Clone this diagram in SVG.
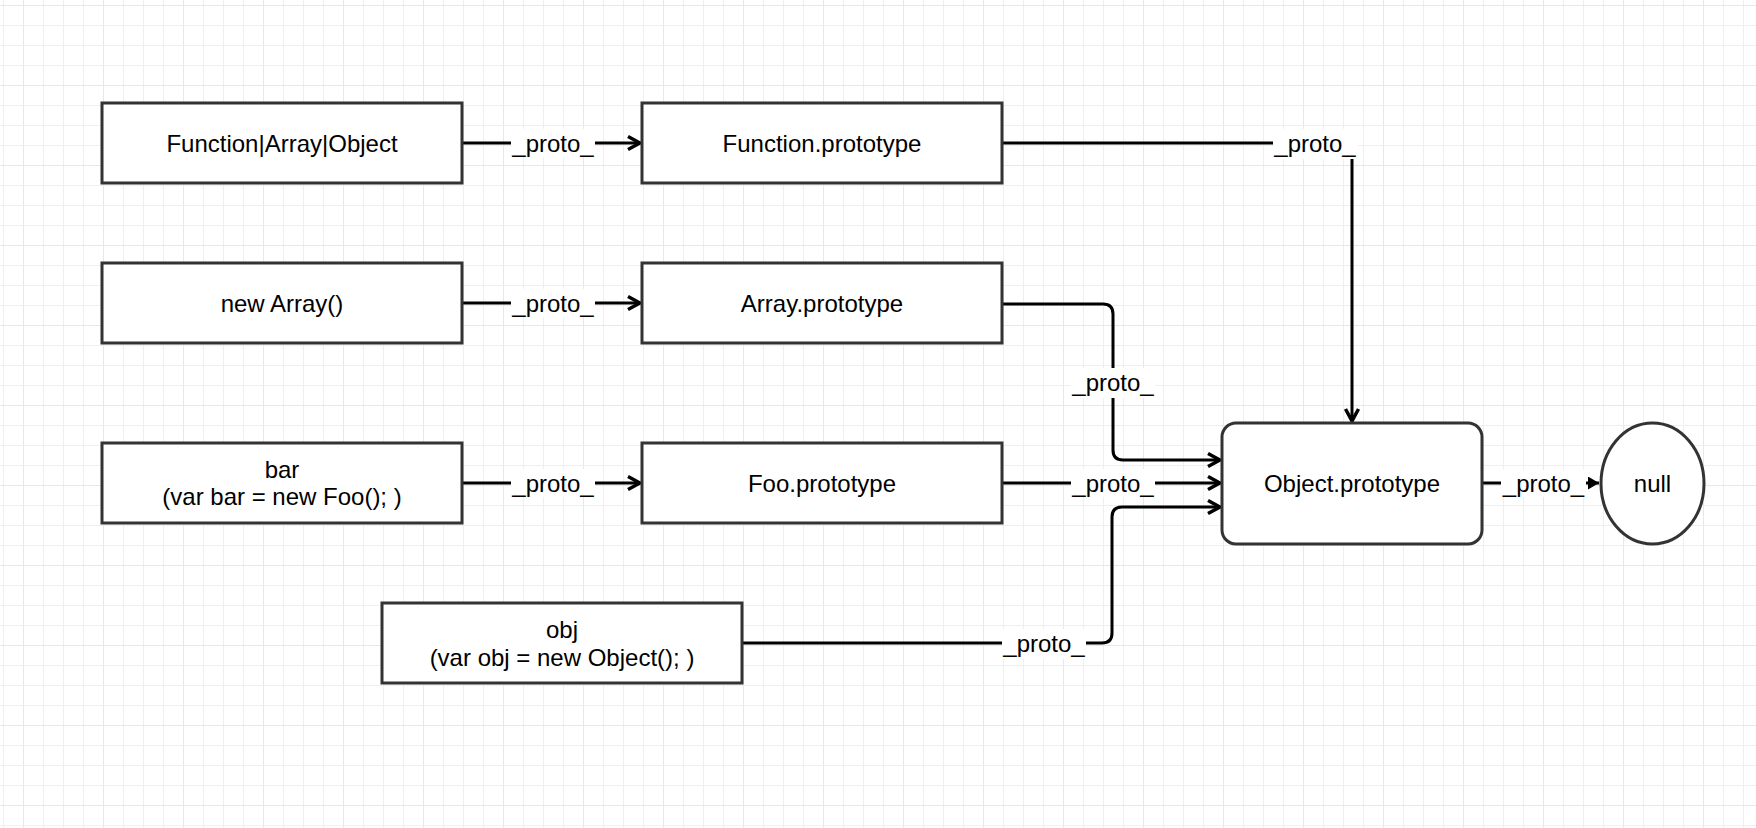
<svg xmlns="http://www.w3.org/2000/svg" width="1756" height="828" viewBox="0 0 1756 828">
  <style>
    .node { fill: #ffffff; stroke: #333333; stroke-width: 3; }
    .txt { font-family: "Liberation Sans", Arial, Helvetica, sans-serif; font-size: 24px; fill: #000000; text-anchor: middle; }
    .edge { fill: none; stroke: #000000; stroke-width: 3; }
    .lblbg { fill: #ffffff; stroke: none; }
  </style>
  <defs>
    <pattern id="grid" patternUnits="userSpaceOnUse" x="3" y="5" width="80" height="80">
      <rect x="0" y="0" width="80" height="80" fill="#ffffff"/>
      <rect x="0" y="0" width="1" height="80" fill="#ededfc"/>
      <rect x="20" y="0" width="1" height="80" fill="#e6e6fa"/>
      <rect x="40" y="0" width="1" height="80" fill="#ededfc"/>
      <rect x="60" y="0" width="1" height="80" fill="#ededfc"/>
      <rect x="0" y="0" width="80" height="1" fill="#e6e6fa"/>
      <rect x="0" y="20" width="80" height="1" fill="#ededfc"/>
      <rect x="0" y="40" width="80" height="1" fill="#ededfc"/>
      <rect x="0" y="60" width="80" height="1" fill="#ededfc"/>
    </pattern>
    <marker id="open" viewBox="0 0 18 20" refX="15" refY="10" markerWidth="18" markerHeight="20" orient="auto" markerUnits="userSpaceOnUse">
      <path d="M3,3.5 L15,10 L3,16.5" fill="none" stroke="#000000" stroke-width="3.5"/>
    </marker>
    <marker id="block" viewBox="0 0 11 13" refX="11" refY="6.5" markerWidth="11" markerHeight="13" orient="auto" markerUnits="userSpaceOnUse">
      <path d="M0,0 L11,6.5 L0,13 Z" fill="#000000"/>
    </marker>
  </defs>

  <rect x="0" y="0" width="1756" height="828" fill="url(#grid)"/>

  <g id="connectors">
    <path class="edge" d="M462,143 H640" marker-end="url(#open)"/>
    <path class="edge" d="M462,303 H640" marker-end="url(#open)"/>
    <path class="edge" d="M462,483 H640" marker-end="url(#open)"/>
    <path class="edge" d="M1002,143 H1352 V421" marker-end="url(#open)"/>
    <path class="edge" d="M1002,304 H1103 Q1113,304 1113,314 V450 Q1113,460 1123,460 H1220" marker-end="url(#open)"/>
    <path class="edge" d="M1002,483 H1220" marker-end="url(#open)"/>
    <path class="edge" d="M742,643 H1102 Q1112,643 1112,633 V517 Q1112,507 1122,507 H1220" marker-end="url(#open)"/>
    <path class="edge" d="M1482,483 H1599" marker-end="url(#block)"/>

    <g id="labels">
      <rect class="lblbg" x="511" y="129" width="84" height="28"/>
      <text class="txt" x="553" y="151.5">_proto_</text>
      <rect class="lblbg" x="511" y="289" width="84" height="28"/>
      <text class="txt" x="553" y="311.5">_proto_</text>
      <rect class="lblbg" x="511" y="469" width="84" height="28"/>
      <text class="txt" x="553" y="491.5">_proto_</text>
      <rect class="lblbg" x="1273" y="129" width="85" height="30"/>
      <text class="txt" x="1315" y="151.5">_proto_</text>
      <rect class="lblbg" x="1071" y="368" width="84" height="30"/>
      <text class="txt" x="1113" y="391">_proto_</text>
      <rect class="lblbg" x="1071" y="469" width="84" height="28"/>
      <text class="txt" x="1113" y="491.5">_proto_</text>
      <rect class="lblbg" x="1002" y="629" width="84" height="30"/>
      <text class="txt" x="1044" y="651.5">_proto_</text>
      <rect class="lblbg" x="1501" y="470" width="85" height="27"/>
      <text class="txt" x="1543.5" y="491.5">_proto_</text>
    </g>
  </g>

  <g id="node-function-array-object">
    <rect class="node" x="102" y="103" width="360" height="80"/>
    <text class="txt" x="282" y="151.5">Function|Array|Object</text>
  </g>
  <g id="node-function-prototype">
    <rect class="node" x="642" y="103" width="360" height="80"/>
    <text class="txt" x="822" y="151.5">Function.prototype</text>
  </g>
  <g id="node-new-array">
    <rect class="node" x="102" y="263" width="360" height="80"/>
    <text class="txt" x="282" y="311.5">new Array()</text>
  </g>
  <g id="node-array-prototype">
    <rect class="node" x="642" y="263" width="360" height="80"/>
    <text class="txt" x="822" y="311.5">Array.prototype</text>
  </g>
  <g id="node-bar">
    <rect class="node" x="102" y="443" width="360" height="80"/>
    <text class="txt" x="282" y="477.5">bar</text>
    <text class="txt" x="282" y="505">(var bar = new Foo(); )</text>
  </g>
  <g id="node-foo-prototype">
    <rect class="node" x="642" y="443" width="360" height="80"/>
    <text class="txt" x="822" y="491.5">Foo.prototype</text>
  </g>
  <g id="node-obj">
    <rect class="node" x="382" y="603" width="360" height="80"/>
    <text class="txt" x="562" y="637.5">obj</text>
    <text class="txt" x="562" y="665.5">(var obj = new Object(); )</text>
  </g>
  <g id="node-object-prototype">
    <rect class="node" x="1222" y="423" width="260" height="121" rx="14" ry="14"/>
    <text class="txt" x="1352" y="492">Object.prototype</text>
  </g>
  <g id="node-null">
    <ellipse class="node" cx="1652.5" cy="483.5" rx="51.5" ry="60.5"/>
    <text class="txt" x="1652.5" y="492">null</text>
  </g>
</svg>
